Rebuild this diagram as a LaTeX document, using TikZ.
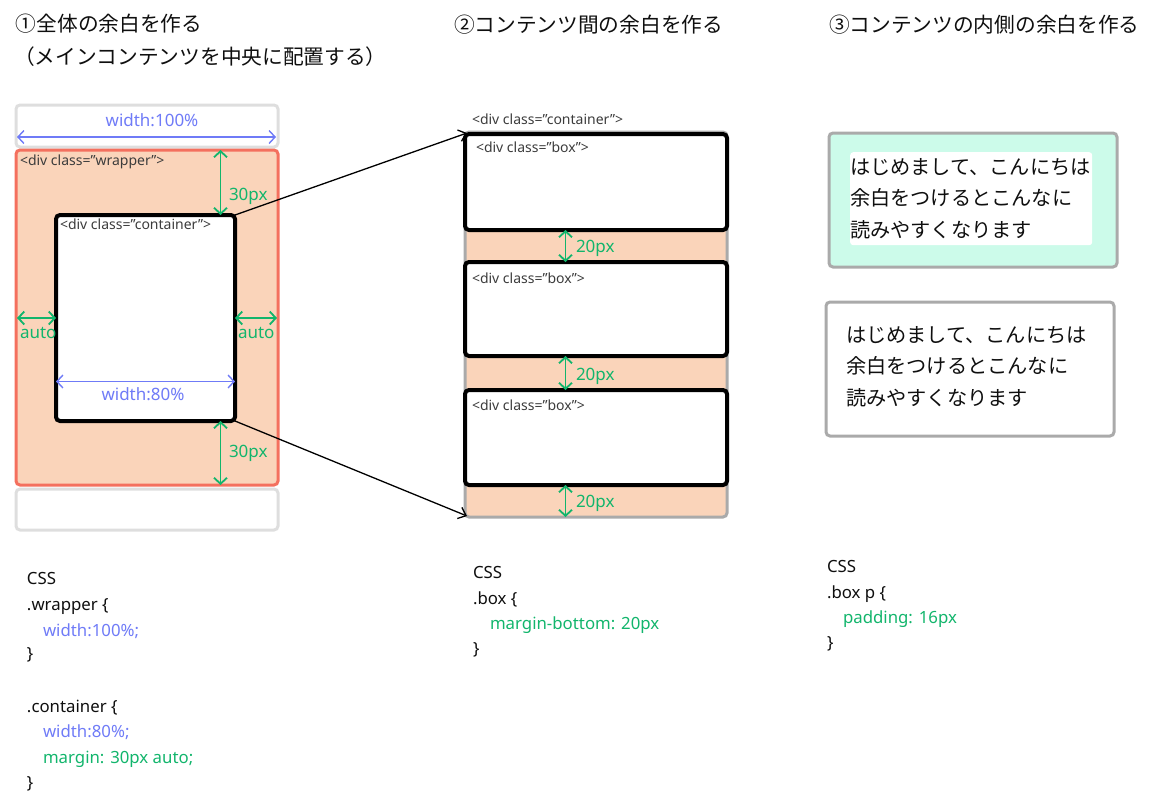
\documentclass[tikz,border=0pt]{standalone}
\usepackage{fontspec}
\setmainfont{Noto Sans}
\newfontfamily\jp{Noto Sans CJK JP}
\usetikzlibrary{arrows.meta}
\definecolor{peach}{RGB}{250,212,186}
\definecolor{salmon}{RGB}{244,112,94}
\definecolor{cblue}{RGB}{111,123,247}
\definecolor{cgreen}{RGB}{18,181,108}
\definecolor{mint}{RGB}{204,251,234}
\definecolor{gborder}{RGB}{170,170,170}
\definecolor{lgray}{RGB}{222,222,222}
\definecolor{lbl}{RGB}{60,60,60}
\definecolor{ink}{RGB}{15,15,15}
\begin{document}
\begin{tikzpicture}[x=1pt,y=-1pt,
  rbox/.style={rectangle, rounded corners=4pt, outer sep=0pt, inner sep=0pt, anchor=north west, line width=3pt},
  blkbox/.style={rbox, draw=black, fill=white, line width=4pt},
  txt/.style={anchor=base west, inner sep=0pt, outer sep=0pt, text=ink},
  divlbl/.style={txt, text=lbl, font=\fontsize{14}{16}\selectfont},
  dimtxt/.style={txt, font=\fontsize{17}{19}\selectfont},
  csstxt/.style={txt, font=\fontsize{16.8}{19}\selectfont},
  title/.style={txt, font=\jp\fontsize{20.7}{24}\selectfont},
  body/.style={txt, font=\jp\fontsize{20.2}{24}\selectfont},
  dimb/.style={cblue, line width=1.4pt, {Straight Barb[length=6pt,width=13pt]}-{Straight Barb[length=6pt,width=13pt]}},
  dimg/.style={cgreen, line width=1.8pt, {Straight Barb[length=6pt,width=13pt]}-{Straight Barb[length=6pt,width=13pt]}},
  conn/.style={black, line width=1.3pt, -{Straight Barb[length=7pt,width=12pt]}}
]
\useasboundingbox (0,0) rectangle (1157,804);

% ---------- titles ----------
\node[title] (t1) at (16,31) {①全体の余白を作る};
\node[title] (t1b) at (14,64) {（メインコンテンツを中央に配置する）};
\node[title] (t2) at (454,32) {②コンテンツ間の余白を作る};
\node[title] (t3) at (829,32) {③コンテンツの内側の余白を作る};

% ---------- left diagram ----------
\node[rbox, draw=lgray, minimum width=262pt, minimum height=42pt] (topb) at (16,105) {};
\node[rbox, draw=salmon, fill=peach, minimum width=262pt, minimum height=335pt] (wrap) at (16,150) {};
\node[blkbox, minimum width=179pt, minimum height=206pt] (cont) at (56,215) {};
\node[rbox, draw=lgray, minimum width=262pt, minimum height=41pt] (botb) at (16,489) {};

\coordinate (hy) at (0,137);
\draw[dimb] ([xshift=1pt]topb.west |- hy) -- ([xshift=-2pt]topb.east |- hy);
\node[dimtxt, text=cblue, anchor=base] (w100) at (152,126) {width:100\%};

\node[divlbl] (lwrap) at (20,165) {<div class=”wrapper”>};
\node[divlbl] (lcont) at (60,229) {<div class=”container”>};

\coordinate (gx) at (220.5,0);
\draw[dimg] (wrap.north -| gx) -- (cont.north -| gx);
\node[dimtxt, text=cgreen] (p30a) at (229,200) {30px};
\draw[dimg] (cont.south -| gx) -- (wrap.south -| gx);
\node[dimtxt, text=cgreen] (p30b) at (229,457) {30px};

\coordinate (ay) at (0,318);
\draw[dimg] ([xshift=1pt]wrap.west |- ay) -- (cont.west |- ay);
\draw[dimg] (cont.east |- ay) -- ([xshift=-1pt]wrap.east |- ay);
\node[dimtxt, text=cgreen] (autol) at (20,338) {auto};
\node[dimtxt, text=cgreen] (autor) at (238,338) {auto};

\coordinate (by) at (0,381.5);
\draw[dimb] (cont.west |- by) -- (cont.east |- by);
\node[dimtxt, text=cblue, anchor=base] (w80) at (143,400) {width:80\%};

% ---------- middle diagram ----------
\node[divlbl] (mcl) at (472,124) {<div class=”container”>};
\node[rbox, draw=gborder, fill=peach, minimum width=262pt, minimum height=385pt] (mid) at (465,132) {};
\node[blkbox, minimum width=262pt, minimum height=96pt] (b1) at (465,134) {};
\node[blkbox, minimum width=262pt, minimum height=94pt] (b2) at (465,262) {};
\node[blkbox, minimum width=262pt, minimum height=95pt] (b3) at (465,390) {};
\node[divlbl] (lb1) at (476,152) {<div class=”box”>};
\node[divlbl] (lb2) at (472,283) {<div class=”box”>};
\node[divlbl] (lb3) at (472,410) {<div class=”box”>};

\coordinate (mx) at (565.5,0);
\draw[dimg] (b1.south -| mx) -- (b2.north -| mx);
\draw[dimg] (b2.south -| mx) -- (b3.north -| mx);
\draw[dimg] (b3.south -| mx) -- (mid.south -| mx);
\node[dimtxt, text=cgreen] (p20a) at (576,252) {20px};
\node[dimtxt, text=cgreen] (p20b) at (576,380) {20px};
\node[dimtxt, text=cgreen] (p20c) at (576,507) {20px};

% connectors
\draw[conn] (cont.north east) -- ([xshift=2pt,yshift=-1pt]mid.north west);
\draw[conn] (cont.south east) -- ([xshift=2pt,yshift=1pt]mid.south west);

% ---------- right diagram ----------
\node[rbox, draw=gborder, fill=mint, minimum width=288pt, minimum height=134pt] (m1) at (829,133) {};
\node[rectangle, rounded corners=3pt, fill=white, anchor=north west, inner sep=0pt, minimum width=242pt, minimum height=93pt] (in1) at (850,152) {};
\node[body] (r1a) at (850,174) {はじめまして、こんにちは};
\node[body] (r1b) at (850,205.5) {余白をつけるとこんなに};
\node[body] (r1c) at (850,237) {読みやすくなります};

\node[rbox, draw=gborder, fill=white, minimum width=288pt, minimum height=134pt] (m2) at (826,302) {};
\node[body] (r2a) at (846,342) {はじめまして、こんにちは};
\node[body] (r2b) at (846,373.5) {余白をつけるとこんなに};
\node[body] (r2c) at (846,405) {読みやすくなります};

% ---------- CSS ----------
\node[csstxt] (c1) at (27,584) {CSS};
\node[csstxt] (c2) at (27,610) {.wrapper \{};
\node[csstxt, text=cblue] (c3) at (43,636) {width:100\%;};
\node[csstxt] (c4) at (27,659) {\}};
\node[csstxt] (c5) at (27,712) {.container \{};
\node[csstxt, text=cblue] (c6) at (43,737) {width:80\%;};
\node[csstxt, text=cgreen] (c7) at (43,763) {margin: 30px auto;};
\node[csstxt] (c8) at (27,788) {\}};

\node[csstxt] (d1) at (473,578) {CSS};
\node[csstxt] (d2) at (473,604) {.box \{};
\node[csstxt, text=cgreen] (d3) at (490,629) {margin-bottom: 20px};
\node[csstxt] (d4) at (473,654) {\}};

\node[csstxt] (e1) at (827,572) {CSS};
\node[csstxt] (e2) at (827,598) {.box p \{};
\node[csstxt, text=cgreen] (e3) at (843,623) {padding: 16px};
\node[csstxt] (e4) at (827,648) {\}};
\end{tikzpicture}
\end{document}
